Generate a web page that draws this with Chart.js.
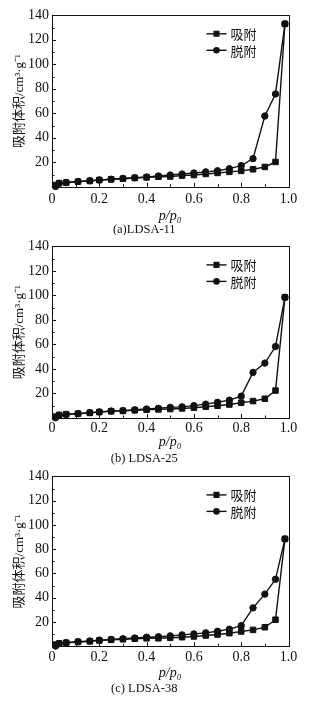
<!DOCTYPE html>
<html><head><meta charset="utf-8">
<script src="https://cdn.jsdelivr.net/npm/chart.js@4.4.1/dist/chart.umd.min.js"></script>
<style>
html,body{margin:0;padding:0;background:#fff;width:322px;height:706px;overflow:hidden}
canvas{position:absolute;left:0}
</style></head>
<body>
<canvas id="c0" width="322" height="235" style="top:0px"></canvas>
<canvas id="c1" width="322" height="230" style="top:235px"></canvas>
<canvas id="c2" width="322" height="232" style="top:465px"></canvas>
<script>
// ---- data ----
const pressure = [0.015, 0.03, 0.06, 0.11, 0.16, 0.2, 0.25, 0.3, 0.35, 0.4, 0.45, 0.5, 0.55, 0.6, 0.65, 0.7, 0.75, 0.8, 0.85, 0.9, 0.945, 0.985];
const adsA = [1.5, 3.0, 3.4, 4.2, 4.8, 5.5, 6.1, 6.6, 7.2, 7.7, 8.2, 8.4, 9.1, 9.6, 10.5, 11.3, 12.2, 13.0, 14.3, 16.2, 20.3, 133];
const desA = [0.3, 2.8, 3.5, 4.3, 4.9, 5.6, 6.2, 6.8, 7.4, 8.0, 8.8, 9.6, 10.4, 11.3, 12.2, 13.1, 14.8, 17.3, 23.0, 57.8, 75.8, 133];
const adsB = [1.1, 2.5, 3.0, 3.5, 4.2, 4.8, 5.5, 5.8, 6.3, 6.7, 7.0, 7.3, 7.8, 8.4, 9.2, 10.0, 11.0, 12.4, 13.8, 15.7, 22.4, 98.5];
const desB = [0.2, 2.3, 3.0, 3.6, 4.4, 5.0, 5.7, 6.0, 6.7, 7.3, 7.9, 8.7, 9.1, 10.1, 11.3, 12.8, 14.6, 17.8, 37.2, 44.8, 58.3, 98.5];
const adsC = [1.4, 2.4, 2.9, 3.6, 4.1, 4.8, 5.3, 5.8, 6.2, 6.6, 6.6, 7.0, 7.5, 8.1, 8.9, 9.7, 10.8, 12.2, 13.5, 15.7, 21.9, 88.5];
const desC = [0.2, 2.2, 3.0, 3.8, 4.4, 5.1, 5.7, 6.2, 6.8, 7.5, 7.9, 8.6, 9.4, 10.2, 11.1, 12.4, 14.1, 17.0, 31.7, 43.0, 55.2, 88.5];
const seriesNames = ['吸附', '脱附'];
const captions = ['(a)LDSA-11', '(b) LDSA-25', '(c) LDSA-38'];
const xTickValues = [0, 0.2, 0.4, 0.6, 0.8, 1.0];
const yTickValues = [0, 20, 40, 60, 80, 100, 120, 140];
const yTitle = '吸附体积/cm³·g⁻¹';
const xTitle = 'p/p₀';

// ---- layout (per panel, relative to its canvas) ----
const layouts = [
  {H: 235, T: 15.3, B: 186.8, tickC: 199, xtC: 216, capC: 229.4},
  {H: 230, T: 10,   B: 183,   tickC: 193.3, xtC: 207.3, capC: 224},
  {H: 232, T: 9,    B: 181.3, tickC: 192.3, xtC: 208.3, capC: 224}
];
const PLOT_LEFT = 52, PLOT_RIGHT = 288.5;
const SERIF = "'Liberation Serif', 'Times New Roman', 'Noto Sans CJK SC', serif";
const INK = '#111';

const framePlugin = {
  id: 'frame',
  afterDatasetsDraw(chart) {
    const {ctx, chartArea: a, scales: {x, y}} = chart;
    ctx.save();
    ctx.strokeStyle = INK; ctx.lineWidth = 1;
    ctx.strokeRect(Math.round(a.left) + 0.5, Math.round(a.top) + 0.5, Math.round(a.right - a.left), Math.round(a.bottom - a.top));
    ctx.beginPath();
    for (let i = 0; i <= 10; i++) {
      const px = Math.round(x.getPixelForValue(i / 10)) + 0.5;
      const len = i % 2 === 0 ? 4 : 2.5;
      ctx.moveTo(px, a.bottom); ctx.lineTo(px, a.bottom - len);
    }
    for (let v = 0; v <= 140; v += 10) {
      const py = Math.round(y.getPixelForValue(v)) + 0.5;
      const len = v % 20 === 0 ? 4 : 2.5;
      ctx.moveTo(a.left, py); ctx.lineTo(a.left + len, py);
    }
    ctx.stroke();
    // legend
    chart.data.datasets.forEach((ds, i) => {
      const ly = a.top + 18.5 + i * 16.5;
      const lx = a.right - 82;
      ctx.strokeStyle = ds.borderColor; ctx.lineWidth = ds.borderWidth;
      ctx.beginPath(); ctx.moveTo(lx, ly); ctx.lineTo(lx + 20, ly); ctx.stroke();
      ctx.fillStyle = INK;
      Chart.helpers.drawPoint(ctx, {pointStyle: ds.pointStyle, radius: ds.pointRadius - 0.6, borderWidth: 1}, lx + 10, ly);
      ctx.font = "13px 'Noto Sans CJK SC', sans-serif";
      ctx.textBaseline = 'middle'; ctx.textAlign = 'left';
      ctx.fillText(ds.label, lx + 24, ly + 0.5);
    });
    ctx.restore();
  }
};

function makeDataset(label, values, style, radius) {
  return {
    label,
    data: pressure.map((p, i) => ({x: p, y: values[i]})),
    borderColor: INK, backgroundColor: INK,
    borderWidth: 1.4, pointStyle: style, pointRadius: radius, pointHoverRadius: radius,
    pointBorderWidth: 1, pointBackgroundColor: INK, pointBorderColor: INK,
    tension: 0, clip: false
  };
}

const panels = [[adsA, desA], [adsB, desB], [adsC, desC]];
panels.forEach((pair, k) => {
  const L = layouts[k];
  const capLH = 2 * (L.H - L.capC);
  const capTop = L.H - capLH;
  const xAxisH = capTop - L.B;
  const xTitlePad = capTop - 7 - L.xtC;
  const tickPad = L.tickC - L.B - 8.4;
  new Chart(document.getElementById('c' + k), {
    type: 'line',
    data: {
      datasets: [
        makeDataset(seriesNames[0], pair[0], 'rect', 3.9),
        makeDataset(seriesNames[1], pair[1], 'circle', 3.2)
      ]
    },
    options: {
      responsive: false, animation: false, devicePixelRatio: 1,
      layout: {padding: {top: L.T, right: 322 - PLOT_RIGHT, left: 0, bottom: 0}},
      plugins: {
        legend: {display: false}, tooltip: {enabled: false},
        title: {
          display: true, position: 'bottom', text: captions[k], color: INK,
          font: {family: SERIF, size: 12.5, weight: 'normal', lineHeight: capLH / 12.5},
          padding: 0
        }
      },
      scales: {
        x: {
          type: 'linear', min: 0, max: 1,
          afterFit: s => { s.height = xAxisH; },
          afterBuildTicks: s => { s.ticks = xTickValues.map(v => ({value: v})); },
          grid: {display: false, drawTicks: false},
          border: {display: false},
          ticks: {color: INK, padding: tickPad, maxRotation: 0,
            font: {family: SERIF, size: 14, lineHeight: 1.2},
            callback: v => v === 0 ? '0' : v.toFixed(1)},
          title: {display: true, text: xTitle, color: INK,
            font: {family: SERIF, size: 14, style: 'italic', lineHeight: 1},
            padding: {top: 0, bottom: xTitlePad}}
        },
        y: {
          type: 'linear', min: 0, max: 140,
          afterFit: s => { s.width = PLOT_LEFT; },
          afterBuildTicks: s => { s.ticks = yTickValues.map(v => ({value: v})); },
          grid: {display: false, drawTicks: false},
          border: {display: false},
          ticks: {color: INK, padding: 3,
            font: {family: SERIF, size: 14, lineHeight: 1.2},
            callback: v => v === 0 ? '' : String(v)},
          title: {display: true, text: yTitle, color: INK,
            font: {family: SERIF, size: 13, lineHeight: 1},
            padding: {top: 13, bottom: 0}}
        }
      }
    },
    plugins: [framePlugin]
  });
});
</script>
</body></html>
